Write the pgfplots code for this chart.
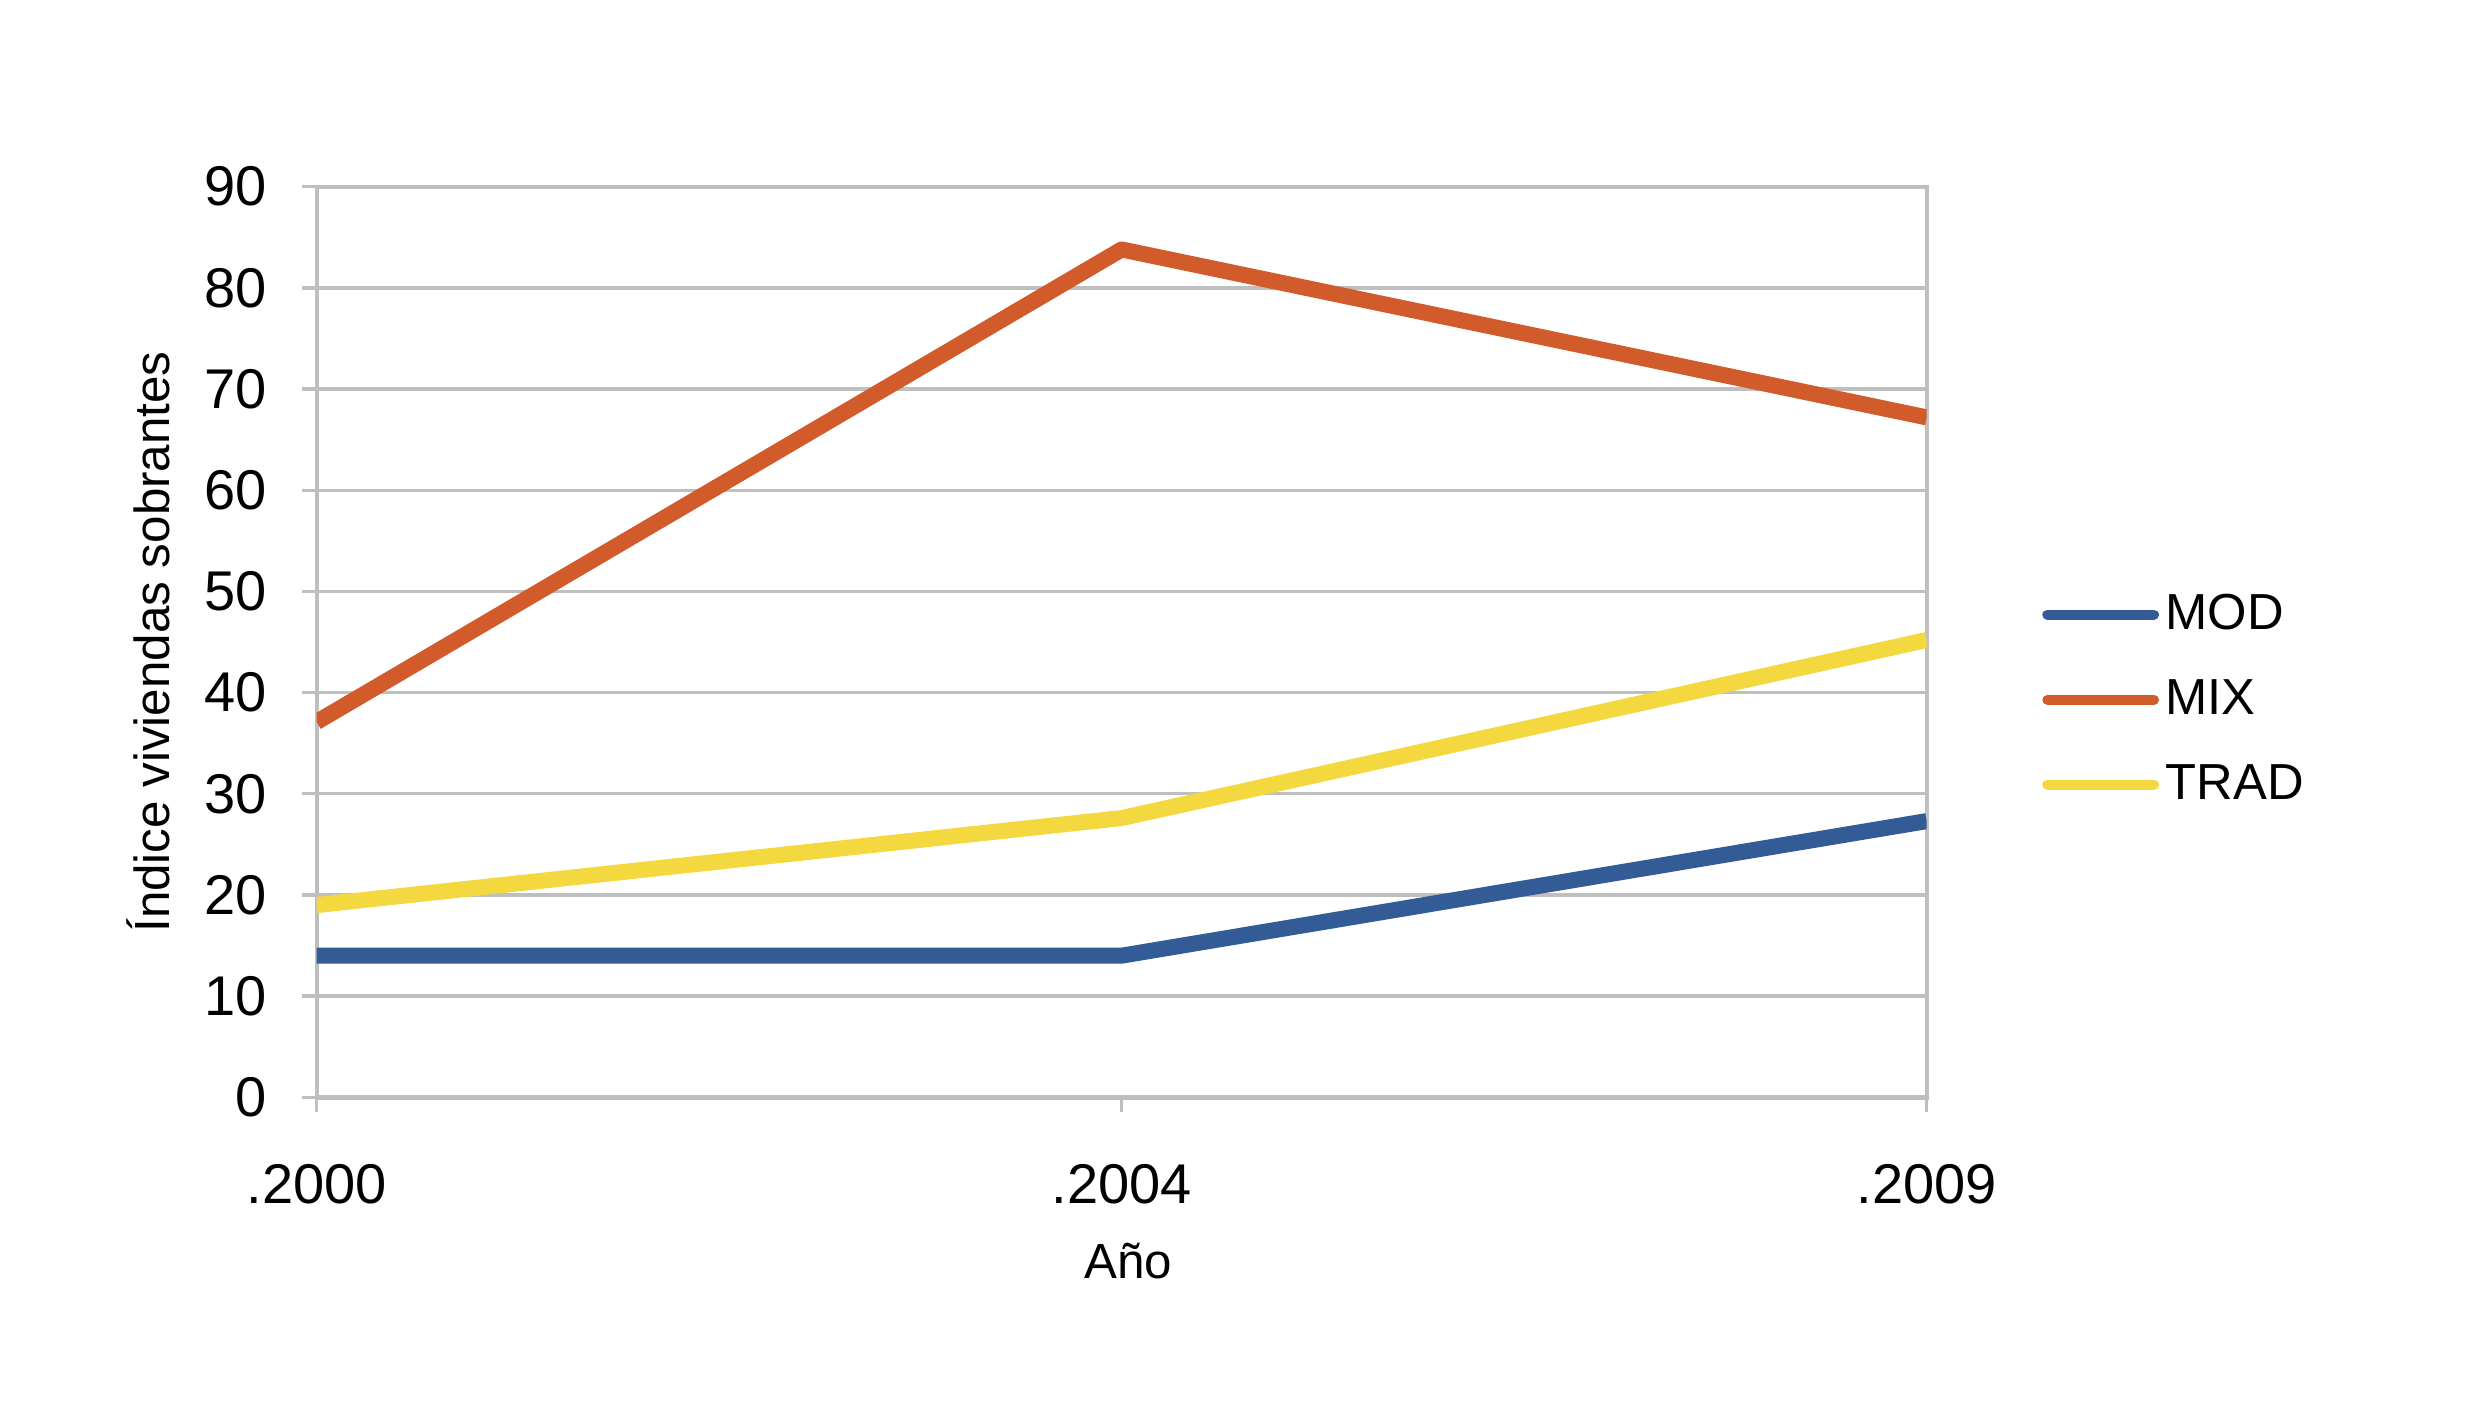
\documentclass[border=0pt]{standalone}
\usepackage{fontspec}
\setmainfont{Liberation Sans}
\usepackage{pgfplots}
\pgfplotsset{compat=1.18}
\definecolor{cmod}{RGB}{51,92,150}
\definecolor{cmix}{RGB}{209,91,42}
\definecolor{ctrad}{RGB}{243,217,63}
\definecolor{cgrid}{RGB}{191,191,191}
\begin{document}
\begin{tikzpicture}
\begin{axis}[
  at={(95pt,97.1pt)}, anchor=south west,
  scale only axis, width=483pt, height=273.2pt,
  xmin=0, xmax=2, ymin=0, ymax=90,
  xtick={0,1,2}, xticklabels={.2000,.2004,.2009},
  ytick={0,10,...,90},
  ymajorgrids, grid style={cgrid, line width=1pt},
  axis line style={cgrid, line width=1.3pt},
  tick style={cgrid, line width=1pt},
  tick align=outside, major tick length=4.5pt,
  xtick pos=bottom, ytick pos=left,
  /pgf/number format/assume math mode=true,
  ticklabel style={font=\fontsize{16.8}{19}\selectfont},
  xticklabel style={yshift=-12pt},
  yticklabel style={xshift=-7pt},
  xlabel={Año}, ylabel={Índice viviendas sobrantes},
  label style={font=\fontsize{14.8}{17}\selectfont},
  xlabel style={yshift=-5pt, xshift=2pt},
  ylabel style={yshift=3.5pt},
  legend style={at={(1,0.437)}, anchor=west, xshift=34.5pt, draw=none, fill=none,
    font=\fontsize{15.2}{18}\selectfont, row sep=9.5pt, inner xsep=0pt,
    /tikz/every even column/.append style={column sep=0pt}},
  legend cell align=left,
  legend image code/.code={\draw[#1, line width=3pt, line cap=round] (0pt,0pt) -- (32pt,0pt);},
]
\addplot[cmod, line width=4.8pt, line join=round] coordinates {(0,14) (1,14) (2,27.3)};
\addlegendentry{MOD}
\addplot[cmix, line width=4.8pt, line join=round] coordinates {(0,37.1) (1,83.8) (2,67.2)};
\addlegendentry{MIX}
\addplot[ctrad, line width=4.8pt, line join=round] coordinates {(0,19) (1,27.6) (2,45.2)};
\addlegendentry{TRAD}
\end{axis}
\pgfresetboundingbox
\path[use as bounding box] (0,0) rectangle (742.5pt,426.3pt);
\end{tikzpicture}
\end{document}
